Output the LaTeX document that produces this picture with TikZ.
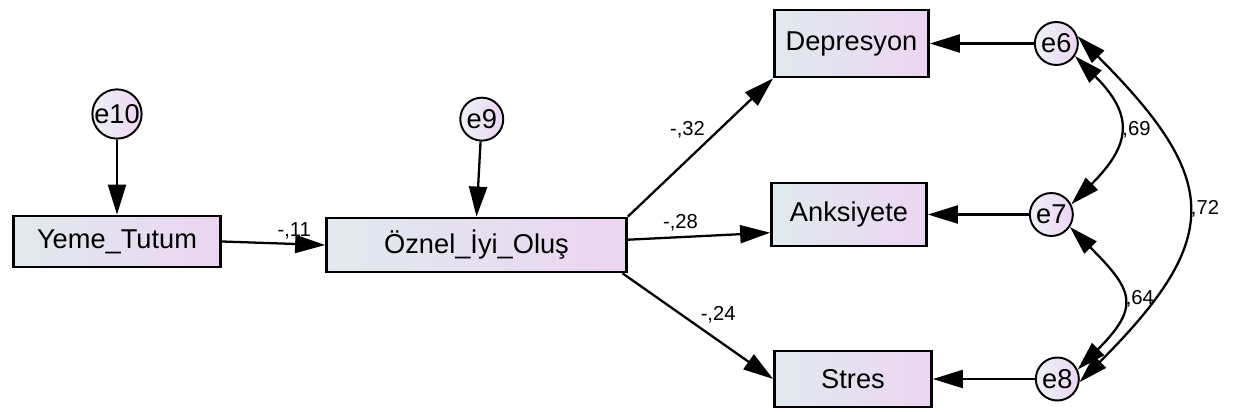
\documentclass[tikz,border=0pt]{standalone}
\usepackage{fontspec}
\setmainfont{Liberation Sans}
\usetikzlibrary{arrows.meta,positioning}
\definecolor{semBlue}{RGB}{224, 234, 238}
\definecolor{semLilac}{RGB}{236, 213, 242}

\begin{document}
\begin{tikzpicture}[
  x=0.02cm, y=0.02cm,
  observed/.style={
    draw,
    line width=1.6pt,
    left color=semBlue,
    right color=semLilac,
    inner sep=0pt,
    font=\fontsize{15.5}{18}\selectfont
  },
  residual/.style={
    draw,
    circle,
    line width=1.1pt,
    left color=semBlue!60!white,
    right color=semLilac,
    inner sep=0pt,
    minimum size=0.86cm,
    font=\fontsize{15.5}{18}\selectfont
  },
  regpath/.style={-{Triangle[length=0.6cm,width=0.36cm]},line width=1.3pt},
  covpath/.style={{Triangle[length=0.58cm,width=0.34cm]}-{Triangle[length=0.58cm,width=0.34cm]},line width=1.3pt},
  coef/.style={inner sep=1pt,font=\fontsize{11.5}{13}\selectfont}
]
  \useasboundingbox (0,0) rectangle (1235,-412);

  % observed variables
  \node[observed,minimum width=4.15cm,minimum height=1.02cm] (yeme) at (117,-241.5) {Yeme\_Tutum};
  \node[observed,minimum width=6.0cm,minimum height=1.08cm] (oznel) at (476.5,-245) {Öznel\_İyi\_Oluş};
  \node[observed,minimum width=3.08cm,minimum height=1.34cm] (depresyon) at (851.5,-43.5) {Depresyon};
  \node[observed,minimum width=3.1cm,minimum height=1.26cm] (anksiyete) at (849,-214.5) {Anksiyete};
  \node[observed,minimum width=3.14cm,minimum height=1.12cm] (stres) at (853,-379) {Stres};

  % error terms
  \node[residual,above=1.5cm of yeme] (e10) {e10};
  \node[residual,above=1.5cm of oznel,xshift=3pt] (e9) {e9};
  \node[residual,right=2.08cm of depresyon] (e6) {e6};
  \node[residual,right=2.02cm of anksiyete] (e7) {e7};
  \node[residual,right=2.04cm of stres] (e8) {e8};

  % regression weights
  \draw[regpath] (e10) -- (yeme);
  \draw[regpath] (e9) -- (oznel.north);
  \draw[regpath] (yeme.east) -- node[coef,pos=0.7,above=1pt] (w11) {-,11} (oznel.west);
  \draw[regpath] (oznel.north east) -- node[coef,pos=0.55,above left] (w32) {-,32} (depresyon.south west);
  \draw[regpath] (oznel.2) -- node[coef,pos=0.37,above=2pt] (w28) {-,28} (anksiyete.193);
  \draw[regpath] (oznel.-11) -- node[coef,pos=0.5,above right] (w24) {-,24} (stres.west);
  \draw[regpath] (e6) -- (depresyon);
  \draw[regpath] (e7) -- (anksiyete);
  \draw[regpath] (e8) -- (stres);

  % error covariances
  \draw[covpath] (e6.-34) to[out=-45,in=45,looseness=1.45] node[coef,right=1pt] (c69) {,69} (e7.27);
  \draw[covpath] (e7.-34) to[out=-45,in=45,looseness=1.6] node[coef,right=1pt] (c64) {,64} (e8.25);
  \draw[covpath] (e6.19) to[out=-45,in=45,looseness=1.5] node[coef,right=1pt] (c72) {,72} (e8.-8);
\end{tikzpicture}
\end{document}
